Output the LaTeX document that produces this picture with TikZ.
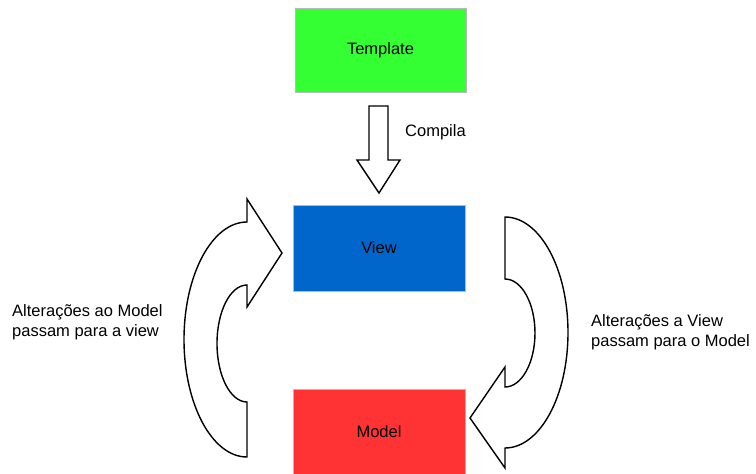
\documentclass[tikz,border=0pt]{standalone}
\usepackage{fontspec}
\setmainfont{Liberation Sans}
\definecolor{tplgreen}{HTML}{33FF33}
\definecolor{viewblue}{HTML}{0066CC}
\definecolor{modelred}{HTML}{FF3333}
\begin{document}
\begin{tikzpicture}[x=1pt,y=-1pt,
  box/.style={draw=gray!55,line width=0.6pt,minimum width=172pt,minimum height=85pt,inner sep=0pt,font=\fontsize{16.5}{20}\selectfont},
  bigarrow/.style={draw=black,fill=white,line width=1.4pt,line join=miter},
  note/.style={align=left,inner sep=0pt,font=\fontsize{16.5}{20.5}\selectfont}]
\useasboundingbox (0,0) rectangle (756,474);

% boxes
\node[box,fill=tplgreen,minimum width=171pt,minimum height=84pt] (template) at (380.5,50) {Template};
\node[box,fill=viewblue,minimum height=86pt] (view) at (379,248) {View};
\node[box,fill=modelred,minimum height=86pt] (model) at (379,432) {Model};

% compile arrow
\draw[bigarrow] (369,106) -- (388,106) -- (388,160) -- (400,160) -- (379,193)
  -- (357,160) -- (369,160) -- cycle;
\node[note,anchor=west] (compila) at (405,132) {Compila};

% left curved arrow: model -> view
\draw[bigarrow] (247,222)
  arc[start angle=270,end angle=90,x radius=63,y radius=117.5]
  -- (247,402)
  arc[start angle=90,end angle=270,x radius=30,y radius=58.5]
  -- (247,307) -- (282,253) -- (247,199) -- cycle;

% right curved arrow: view -> model
\draw[bigarrow] (505,217)
  arc[start angle=-90,end angle=90,x radius=63,y radius=115.5]
  -- (505,468) -- (470,418) -- (505,367) -- (505,387)
  arc[start angle=90,end angle=-90,x radius=30,y radius=54]
  -- cycle;

% side notes
\node[note,anchor=west] (leftnote) at (12,322) {Alterações ao Model\\passam para a view};
\node[note,anchor=west] (rightnote) at (591,332) {Alterações a View\\passam para o Model};
\end{tikzpicture}
\end{document}
